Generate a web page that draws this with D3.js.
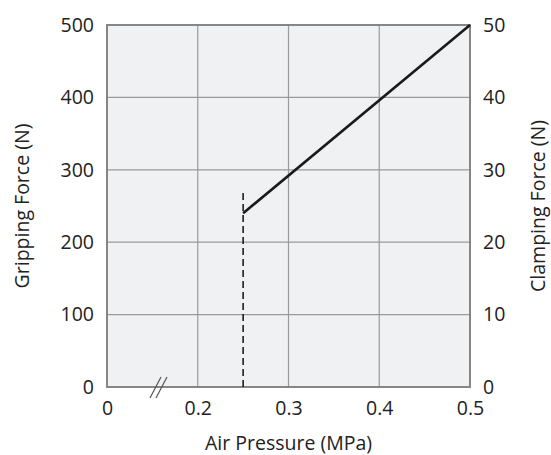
<!DOCTYPE html>
<html><head><meta charset="utf-8">
<script src="https://cdn.jsdelivr.net/npm/d3@7"></script>
<style>body{margin:0;background:#fff}svg{display:block}text{font-family:"Open Sans","Noto Sans",sans-serif;fill:#222}</style>
</head><body>
<script>
const xTicks=[0.1,0.2,0.3,0.4,0.5];
const xTickLabels=["0","0.2","0.3","0.4","0.5"];
const yLeftTicks=[0,100,200,300,400,500];
const yRightTicks=[0,10,20,30,40,50];
const lineX=[0.25,0.5];
const lineY=[240,500];
const dashX=[0.25,0.25];
const dashY=[0,272];

const W=551,H=455;
const m={l:107,r:81,t:25,b:68};
const FS=19.5;
const svg=d3.select("body").append("svg").attr("width",W).attr("height",H);
const x=d3.scaleLinear().domain([0.1,0.5]).range([m.l,W-m.r]);
const y=d3.scaleLinear().domain([0,500]).range([H-m.b,m.t]);
const y2=d3.scaleLinear().domain([0,50]).range([H-m.b,m.t]);

svg.append("rect").attr("x",x(0.1)).attr("y",y(500)).attr("width",x(0.5)-x(0.1)).attr("height",y(0)-y(500)).attr("fill","#f0f1f3");

// grid
svg.append("g").selectAll("line").data(xTicks.slice(1,-1)).join("line")
 .attr("x1",d=>x(d)).attr("x2",d=>x(d)).attr("y1",y(0)).attr("y2",y(500)).attr("stroke","#9a9a9a").attr("stroke-width",1.2);
svg.append("g").selectAll("line").data(yLeftTicks.slice(1,-1)).join("line")
 .attr("x1",x(0.1)).attr("x2",x(0.5)).attr("y1",d=>y(d)).attr("y2",d=>y(d)).attr("stroke","#9a9a9a").attr("stroke-width",1.2);

svg.append("rect").attr("x",x(0.1)).attr("y",y(500)).attr("width",x(0.5)-x(0.1)).attr("height",y(0)-y(500)).attr("fill","none").attr("stroke","#7a7a7a").attr("stroke-width",1.8);

// axes
const ax=svg.append("g").attr("transform",`translate(0,${y(0)})`)
 .call(d3.axisBottom(x).tickValues(xTicks).tickFormat((d,i)=>xTickLabels[i]).tickSize(0).tickPadding(13));
ax.select(".domain").remove();
const ayl=svg.append("g").attr("transform",`translate(${x(0.1)},0)`)
 .call(d3.axisLeft(y).tickValues(yLeftTicks).tickSize(0).tickPadding(13));
ayl.select(".domain").remove();
const ayr=svg.append("g").attr("transform",`translate(${x(0.5)},0)`)
 .call(d3.axisRight(y2).tickValues(yRightTicks).tickSize(0).tickPadding(13));
ayr.select(".domain").remove();
svg.selectAll(".tick text").attr("font-size",FS).attr("fill","#222").attr("font-family","'Open Sans','Noto Sans',sans-serif");
ax.selectAll(".tick text").attr("dy","0.75em");

// break marks
const bx=x(0.1)+49, by=y(0);
[0,6].forEach(o=>{
 svg.append("line").attr("x1",bx+o-6).attr("y1",by+11).attr("x2",bx+o+5).attr("y2",by-10).attr("stroke","#555").attr("stroke-width",1.2);
});

// dashed
svg.append("line").attr("x1",x(dashX[0])).attr("x2",x(dashX[1])).attr("y1",y(dashY[0])).attr("y2",y(dashY[1]))
 .attr("stroke","#111").attr("stroke-width",1.5).attr("stroke-dasharray","7,4");
// line
svg.append("path").datum(lineX.map((d,i)=>[d,lineY[i]]))
 .attr("d",d3.line().x(d=>x(d[0])).y(d=>y(d[1]))).attr("fill","none").attr("stroke","#1a1a1a").attr("stroke-width",2.6);

// titles
svg.append("text").attr("x",(x(0.1)+x(0.5))/2).attr("y",450).attr("text-anchor","middle").attr("font-size",FS).text("Air Pressure (MPa)");
svg.append("text").attr("transform",`translate(29,${(y(0)+y(500))/2}) rotate(-90)`).attr("text-anchor","middle").attr("font-size",FS).text("Gripping Force (N)");
svg.append("text").attr("transform",`translate(545,${(y(0)+y(500))/2}) rotate(-90)`).attr("text-anchor","middle").attr("font-size",FS).text("Clamping Force (N)");
</script>
</body></html>
